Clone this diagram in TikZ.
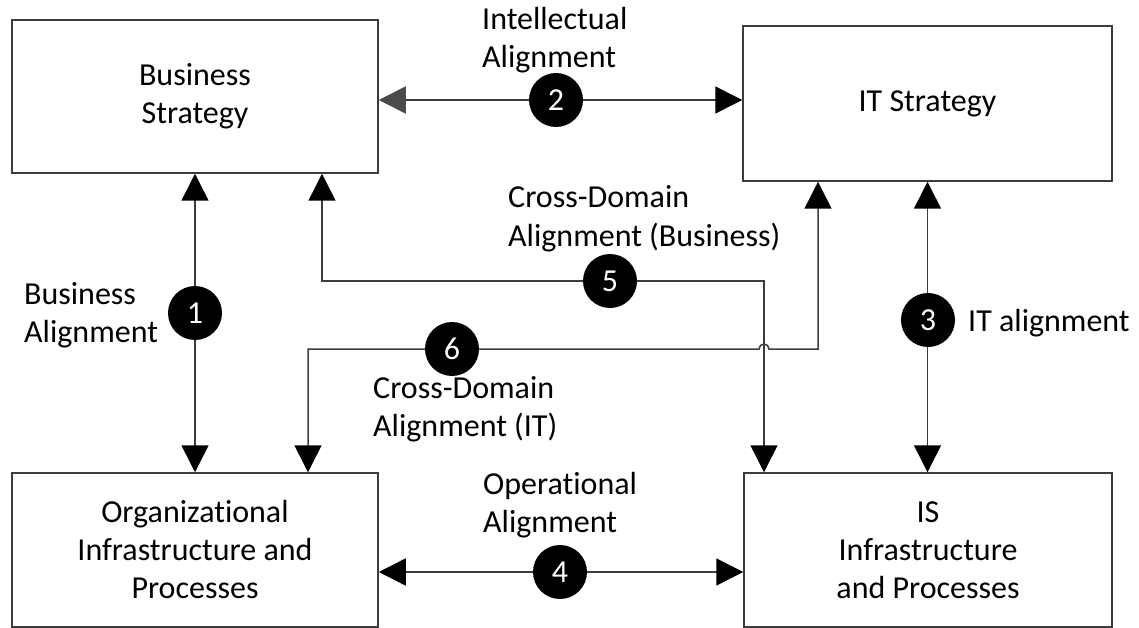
\documentclass[tikz,border=0pt]{standalone}
\usepackage{fontspec}
\setmainfont{Carlito}[RawFeature={-liga;-clig}]
\usetikzlibrary{arrows.meta}
\definecolor{edge}{HTML}{3C3C3C}
\definecolor{tipgray}{HTML}{4A4A4A}

\begin{document}
\begin{tikzpicture}[x=1pt,y=-1pt,
  every node/.style={font=\fontsize{32}{38}\selectfont},
  block/.style={draw=edge, line width=1.5pt, fill=white, align=center, inner sep=0pt},
  badge/.style={circle, fill=black, text=white, minimum size=54pt, inner sep=0pt},
  lbl/.style={align=left, anchor=base west, inner sep=0pt},
  link/.style={draw=edge, line width=1.5pt},
  both/.style={{Triangle[length=27pt,width=27pt,color=black]}-{Triangle[length=27pt,width=27pt,color=black]}},
  grayback/.style={{Triangle[length=27pt,width=27pt,color=tipgray]}-{Triangle[length=27pt,width=27pt,color=black]}}
]
\useasboundingbox (0,0) rectangle (1139,628);

% the four domains
\node[block, minimum width=366pt, minimum height=153pt] (bs)  at (195,96.5)  {Business\\Strategy};
\node[block, minimum width=369pt, minimum height=155pt] (it)  at (927.5,103.5) {IT Strategy};
\node[block, minimum width=366pt, minimum height=154pt] (org) at (195,550)   {Organizational\\Infrastructure and\\Processes};
\node[block, minimum width=368pt, minimum height=154pt] (is)  at (928,550)   {IS\\Infrastructure\\and Processes};

% badge positions
\coordinate (c1) at (195,313);
\coordinate (c2) at (556,100);
\coordinate (c3) at (928,320);
\coordinate (c4) at (560,572);
\coordinate (c5) at (610,281);
\coordinate (c6) at (452,349);

% end points of the cross-domain links
\coordinate (p5a) at ([xshift=127pt]bs.south);
\coordinate (p5b) at ([xshift=-164pt]is.north);
\coordinate (p6a) at ([xshift=-109.5pt]it.south);
\coordinate (p6b) at ([xshift=113pt]org.north);

% 1: business alignment
\draw[link, both] (bs.south) -- (org.north);
% 2: intellectual alignment
\draw[link, grayback] ([yshift=-3.5pt]bs.east) -- ([yshift=-3.5pt]bs.east -| it.west);
% 3: IT alignment
\draw[link, both] (it.south) -- (it.south |- is.north);
% 4: operational alignment
\draw[link, both] ([yshift=-22pt]org.east) -- ([yshift=-22pt]org.east -| is.west);
% 6: cross-domain (IT), hopping over link 5
\draw[link, both] (p6a) -- (p6a |- c6) -- ([xshift=5pt]p5b |- c6)
  arc[start angle=0, end angle=180, radius=5pt] -- (p6b |- c6) -- (p6b);
% 5: cross-domain (business)
\draw[link, both] (p5a) |- (c5) -| (p5b);

% numbered badges
\node[badge] (b1) at (c1) {1};
\node[badge] (b2) at (c2) {2};
\node[badge] (b3) at (c3) {3};
\node[badge] (b4) at (c4) {4};
\node[badge] (b5) at (c5) {5};
\node[badge] (b6) at (c6) {6};

% link labels (anchored at the baseline of their last line)
\node[lbl] (l2) at (482,68)  {Intellectual\\Alignment};
\node[lbl] (l5) at (508,246) {Cross-Domain\\Alignment (Business)};
\node[lbl] (l1) at (24,342)  {Business\\Alignment};
\node[lbl] (l3) at (968,331) {IT alignment};
\node[lbl] (l6) at (373,436) {Cross-Domain\\Alignment (IT)};
\node[lbl] (l4) at (483,532) {Operational\\Alignment};
\end{tikzpicture}
\end{document}
